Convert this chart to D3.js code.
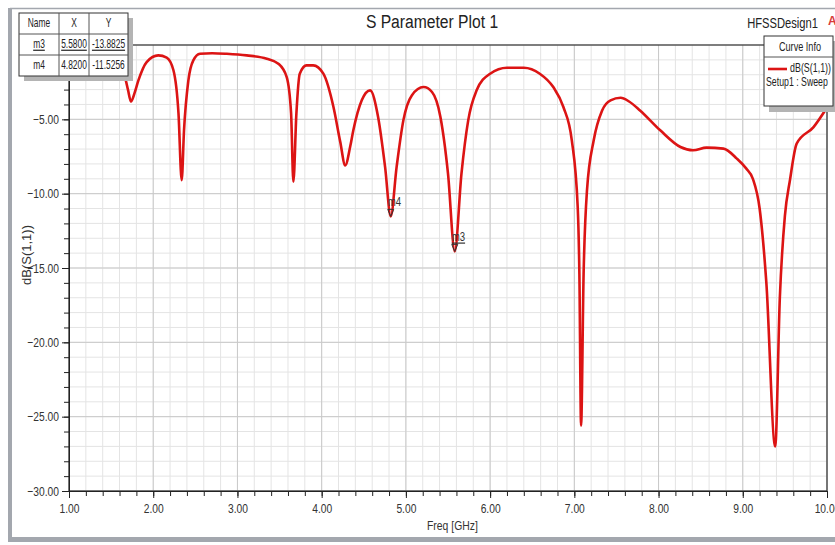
<!DOCTYPE html>
<html>
<head>
<meta charset="utf-8">
<script src="https://cdn.jsdelivr.net/npm/d3@7"></script>
<style>
  body { margin: 0; background: #fff; }
  svg { display: block; }
  text { font-family: "Liberation Sans", Arial, sans-serif; }
</style>
</head>
<body>
<div id="chart"></div>
<script>
// S11 curve (GHz, dB)
let freq = [1.00, 1.20, 1.40, 1.55, 1.665, 1.70, 1.736, 1.78, 1.823, 1.922,
            2.06, 2.16, 2.24, 2.30, 2.338, 2.366, 2.417, 2.476, 2.556, 2.70,
            2.873, 3.11, 3.348, 3.486, 3.585, 3.637, 3.664, 3.70, 3.74, 3.82,
            3.90, 4.02, 4.14, 4.22, 4.28, 4.34, 4.376, 4.476, 4.575, 4.67,
            4.753, 4.82, 4.89, 4.97, 5.07, 5.21, 5.31, 5.41, 5.50, 5.58,
            5.66, 5.74, 5.84, 6.00, 6.20, 6.40, 6.59, 6.75, 6.87, 6.97,
            7.04, 7.06, 7.08, 7.11, 7.15, 7.23, 7.33, 7.43, 7.55, 7.65,
            7.78, 8.02, 8.26, 8.41, 8.57, 8.77, 8.93, 9.04, 9.12, 9.20,
            9.28, 9.385, 9.44, 9.50, 9.56, 9.64, 9.84, 10.00];
let s11 = [-0.35, -0.5, -0.9, -1.4, -2.2, -3.0, -3.8, -3.2, -2.4, -1.15,
           -0.70, -0.85, -1.7, -4.6, -9.1, -5.7, -2.4, -1.03, -0.59, -0.55,
           -0.59, -0.70, -0.92, -1.26, -2.16, -4.6, -9.2, -4.6, -1.93, -1.37,
           -1.37, -1.93, -4.17, -6.5, -8.1, -6.8, -5.74, -3.72, -3.05, -4.84,
           -8.2, -11.53, -8.2, -5.07, -3.39, -2.83, -3.16, -4.84, -8.65, -13.88,
           -8.65, -5.07, -3.05, -1.93, -1.53, -1.53, -1.93, -2.83, -4.17, -6.41,
           -10.9, -15.4, -25.6, -15.4, -9.8, -6.41, -4.4, -3.72, -3.55, -3.8,
           -4.4, -5.74, -6.86, -7.08, -6.9, -6.97, -7.64, -8.3, -9.0, -11.0,
           -16, -27.0, -17, -11.5, -9.1, -6.63, -5.52, -4.2];

let xTicks = [1, 2, 3, 4, 5, 6, 7, 8, 9, 10];
let yTicks = [-30, -25, -20, -15, -10, -5];

let markerNames = ["m3", "m4"];
let markerX = [5.58, 4.82];
let markerY = [-13.8825, -11.5256];

let width = 835, height = 545;
let plot = { left: 69, right: 827, top: 45, bottom: 491 };

let svg = d3.select("#chart").append("svg")
    .attr("width", width)
    .attr("height", height);

let x = d3.scaleLinear().domain([1, 10]).range([plot.left, plot.right]);
let y = d3.scaleLinear().domain([-30, 0]).range([plot.bottom, plot.top]);

let xMinor = d3.range(1, 10.001, 0.2);
let yMinor = d3.range(-30, 0.001, 1);

// squeeze a text horizontally around its own x (the original font is a narrow one)
function narrow(sel, s) {
    sel.each(function () {
        let t = d3.select(this);
        let tx = parseFloat(t.attr("x")) || 0;
        t.attr("transform", "translate(" + tx + ",0) scale(" + s + ",1) translate(" + (-tx) + ",0)");
    });
}

// outer frame
svg.append("line").attr("x1", 10).attr("x2", width).attr("y1", 8.5).attr("y2", 8.5)
    .style("stroke", "#a3a7ae").style("stroke-width", 1.5);
svg.append("rect").attr("x", 8).attr("y", 8).attr("width", 4).attr("height", 534)
    .style("fill", "#a3a7ae");
svg.append("rect").attr("x", 8).attr("y", 537).attr("width", width).attr("height", 5)
    .style("fill", "#a3a7ae");

// grid
let grid = svg.append("g");
grid.selectAll()
    .data(xMinor)
    .enter()
    .append("line")
    .attr("x1", d => x(d)).attr("x2", d => x(d))
    .attr("y1", plot.top).attr("y2", plot.bottom)
    .style("stroke", "#e4e4e4").style("stroke-width", 1);
grid.selectAll()
    .data(yMinor)
    .enter()
    .append("line")
    .attr("x1", plot.left).attr("x2", plot.right)
    .attr("y1", d => y(d)).attr("y2", d => y(d))
    .style("stroke", "#e4e4e4").style("stroke-width", 1);
grid.selectAll()
    .data(xTicks)
    .enter()
    .append("line")
    .attr("x1", d => x(d)).attr("x2", d => x(d))
    .attr("y1", plot.top).attr("y2", plot.bottom)
    .style("stroke", "#c9c9c9").style("stroke-width", 1);
grid.selectAll()
    .data(yTicks)
    .enter()
    .append("line")
    .attr("x1", plot.left).attr("x2", plot.right)
    .attr("y1", d => y(d)).attr("y2", d => y(d))
    .style("stroke", "#c9c9c9").style("stroke-width", 1);

// plot border
svg.append("rect")
    .attr("x", plot.left).attr("y", plot.top)
    .attr("width", plot.right - plot.left).attr("height", plot.bottom - plot.top)
    .style("fill", "none").style("stroke", "#333").style("stroke-width", 1.2);

// axes
let fmt = d3.format(".2f");
let axisStyle = function (g) {
    g.select(".domain").style("stroke", "#222");
    g.selectAll(".tick line").style("stroke", "#222");
    g.selectAll("text").style("font-size", "13px").style("fill", "#333")
        .style("font-family", "'Liberation Sans',Arial,sans-serif");
    narrow(g.selectAll("text"), 0.79);
};
svg.append("g")
    .attr("transform", "translate(" + plot.left + ",0)")
    .call(d3.axisLeft(y).tickValues(yMinor).tickSize(5).tickFormat(""))
    .call(axisStyle);
svg.append("g")
    .attr("transform", "translate(" + plot.left + ",0)")
    .call(d3.axisLeft(y).tickValues(yTicks).tickSize(7).tickPadding(3).tickFormat(fmt))
    .call(axisStyle);
svg.append("g")
    .attr("transform", "translate(0," + plot.bottom + ")")
    .call(d3.axisBottom(x).tickValues(xMinor).tickSize(5).tickFormat(""))
    .call(axisStyle);
svg.append("g")
    .attr("transform", "translate(0," + plot.bottom + ")")
    .call(d3.axisBottom(x).tickValues(xTicks).tickSize(7).tickPadding(6).tickFormat(fmt))
    .call(axisStyle);

// curve
let points = freq.map((f, i) => [f, s11[i]]);
let line = d3.line()
    .x(d => x(d[0]))
    .y(d => y(d[1]))
    .curve(d3.curveMonotoneX);
svg.append("path")
    .datum(points)
    .attr("d", line)
    .style("fill", "none")
    .style("stroke", "#dc1414")
    .style("stroke-width", 2.6)
    .style("stroke-linejoin", "round");

// markers on the curve
let marks = svg.selectAll()
    .data(markerNames.map((n, i) => ({ name: n, x: markerX[i], y: markerY[i] })))
    .enter()
    .append("g")
    .attr("transform", d => "translate(" + x(d.x) + "," + y(d.y) + ")");
marks.append("path")
    .attr("d", "M-3,-7 L3,-7 L0,0 Z")
    .style("fill", "none").style("stroke", "#333").style("stroke-width", 1);
marks.append("text")
    .attr("x", -3).attr("y", -10)
    .text(d => d.name)
    .attr("font-size", "12px")
    .style("fill", "#333")
    .style("text-decoration", d => d.name == "m3" ? "underline" : "none")
    .call(narrow, 0.8);

// title
svg.append("text")
    .attr("x", 432).attr("y", 28)
    .attr("text-anchor", "middle")
    .attr("font-size", "18px")
    .style("fill", "#222")
    .text("S Parameter Plot 1")
    .call(narrow, 0.87);
svg.append("text")
    .attr("x", 818).attr("y", 28)
    .attr("text-anchor", "end")
    .attr("font-size", "14px")
    .style("fill", "#222")
    .text("HFSSDesign1")
    .call(narrow, 0.8);
svg.append("text")
    .attr("x", 828).attr("y", 25)
    .attr("font-size", "12px")
    .attr("font-weight", "bold")
    .style("fill", "#d83a3a")
    .text("A");

// axis titles
svg.append("text")
    .attr("transform", "translate(31,255) rotate(-90)")
    .attr("text-anchor", "middle")
    .attr("font-size", "13px")
    .style("fill", "#333")
    .text("dB(S(1,1))");
svg.append("text")
    .attr("x", 427).attr("y", 530)
    .attr("font-size", "13px")
    .style("fill", "#333")
    .text("Freq [GHz]")
    .call(narrow, 0.8);

// marker table
let cols = [19, 59, 89, 128];
let rows = [13, 34, 55, 76];
let tableRows = [["Name", "X", "Y"]].concat(markerNames.map((n, i) =>
    [n, markerX[i].toFixed(4), markerY[i].toFixed(4)]));
let table = svg.append("g");
table.append("rect")
    .attr("x", cols[0] + 5).attr("y", rows[0] + 5)
    .attr("width", cols[3] - cols[0]).attr("height", rows[3] - rows[0])
    .style("fill", "#b4b4b4");
table.append("rect")
    .attr("x", cols[0]).attr("y", rows[0])
    .attr("width", cols[3] - cols[0]).attr("height", rows[3] - rows[0])
    .style("fill", "#fff").style("stroke", "#333").style("stroke-width", 1);
table.selectAll()
    .data(cols.slice(1, 3))
    .enter()
    .append("line")
    .attr("x1", d => d).attr("x2", d => d)
    .attr("y1", rows[0]).attr("y2", rows[3])
    .style("stroke", "#555");
table.selectAll()
    .data(rows.slice(1, 3))
    .enter()
    .append("line")
    .attr("x1", cols[0]).attr("x2", cols[3])
    .attr("y1", d => d).attr("y2", d => d)
    .style("stroke", "#555");
tableRows.forEach((r, ri) => {
    r.forEach((v, ci) => {
        table.append("text")
            .attr("x", (cols[ci] + cols[ci + 1]) / 2)
            .attr("y", (rows[ri] + rows[ri + 1]) / 2 + 4)
            .attr("text-anchor", "middle")
            .attr("font-size", "12px")
            .style("fill", "#222")
            .style("text-decoration", ri == 1 ? "underline" : "none")
            .text(v)
            .call(narrow, 0.7);
    });
});

// curve info legend
let legend = svg.append("g");
legend.append("rect")
    .attr("x", 769).attr("y", 41).attr("width", 70).attr("height", 71)
    .style("fill", "#b4b4b4");
legend.append("rect")
    .attr("x", 764).attr("y", 36).attr("width", 69).attr("height", 70)
    .style("fill", "#fff").style("stroke", "#333").style("stroke-width", 1);
legend.append("line")
    .attr("x1", 764).attr("x2", 833).attr("y1", 57).attr("y2", 57)
    .style("stroke", "#555");
legend.append("text")
    .attr("x", 800).attr("y", 51)
    .attr("text-anchor", "middle")
    .attr("font-size", "12px")
    .style("fill", "#222")
    .text("Curve Info")
    .call(narrow, 0.76);
legend.append("line")
    .attr("x1", 768).attr("x2", 787).attr("y1", 69).attr("y2", 69)
    .style("stroke", "#dc1414").style("stroke-width", 2.6);
legend.append("text")
    .attr("x", 831).attr("y", 72)
    .attr("text-anchor", "end")
    .attr("font-size", "12px")
    .style("fill", "#222")
    .text("dB(S(1,1))")
    .call(narrow, 0.74);
legend.append("text")
    .attr("x", 766).attr("y", 86)
    .attr("font-size", "12px")
    .style("fill", "#222")
    .text("Setup1 : Sweep")
    .call(narrow, 0.73);
</script>
</body>
</html>
